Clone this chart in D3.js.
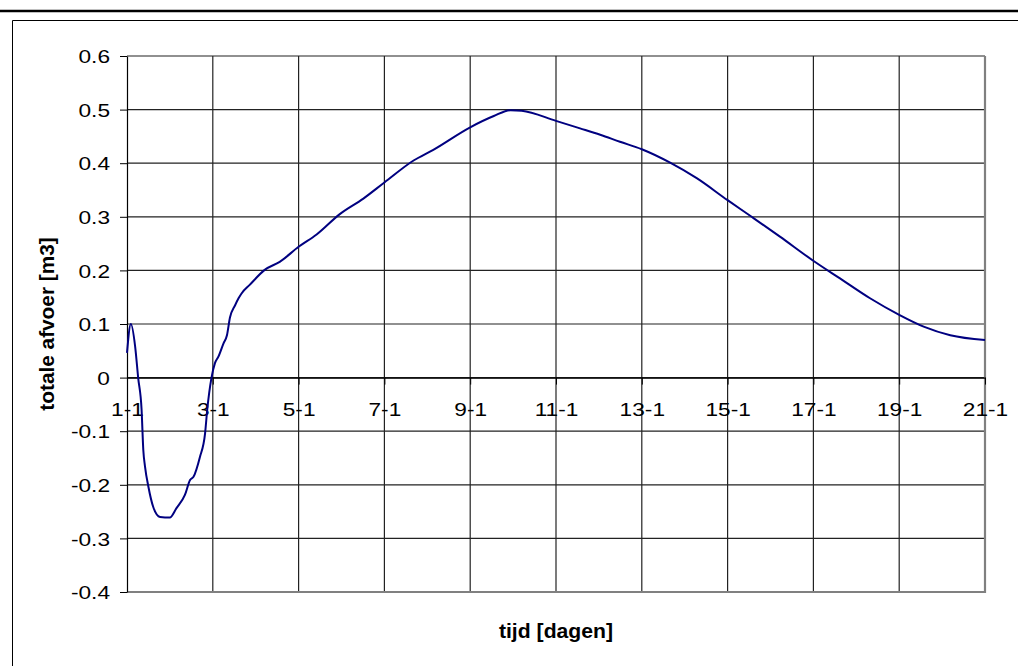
<!DOCTYPE html>
<meta charset="utf-8">
<head>
  <style>
    body { margin: 0; background: #fff; }
    .tick-label { font-family: Arial, "Liberation Sans", sans-serif; font-size: 18.6px; fill: #000; }
    .axis-title { font-family: Arial, "Liberation Sans", sans-serif; font-size: 20px; font-weight: bold; fill: #000; }
  </style>
  <title></title>
</head>
<body>

<script src="https://d3js.org/d3.v7.min.js"></script>

<div id="my_dataviz"></div>

<script>

var days = [0, 0.09, 0.19, 0.26, 0.34, 0.38, 0.42, 0.50, 0.61, 0.77, 1.0, 1.15, 1.35, 1.47, 1.55,
  1.70, 1.82, 1.87, 1.97, 2.05, 2.13, 2.25, 2.33, 2.40, 2.52, 2.60, 2.67, 2.86, 3.21, 3.56, 4.0,
  4.42, 4.96, 5.51, 6.0, 6.68, 7.14, 8.0, 8.55, 8.94, 9.2, 10.0, 10.56, 11.03, 11.49, 12.0,
  12.66, 13.28, 14.0, 14.56, 15.22, 15.98, 16.62, 17.32, 18.0, 18.57, 19.19, 20.0];
var afvoer = [0.046, 0.100, 0.058, 0.0, -0.06, -0.135, -0.166, -0.204, -0.241, -0.26, -0.261, -0.244, -0.219, -0.191, -0.185,
  -0.148, -0.104, -0.06, 0.0, 0.027, 0.039, 0.064, 0.079, 0.112, 0.135, 0.148, 0.157, 0.173, 0.201, 0.216, 0.244,
  0.267, 0.305, 0.334, 0.364, 0.405, 0.425, 0.467, 0.488, 0.499, 0.498, 0.479, 0.465, 0.453, 0.440, 0.426,
  0.401, 0.372, 0.331, 0.300, 0.263, 0.219, 0.185, 0.148, 0.117, 0.095, 0.079, 0.070];

var xTicks = [0, 2, 4, 6, 8, 10, 12, 14, 16, 18, 20];
var xTickLabels = ["1-1", "3-1", "5-1", "7-1", "9-1", "11-1", "13-1", "15-1", "17-1", "19-1", "21-1"];
var yTicks = [-0.4, -0.3, -0.2, -0.1, 0, 0.1, 0.2, 0.3, 0.4, 0.5, 0.6];

var W = 1018, H = 666;
var plotLeft = 127, plotRight = 985, plotTop = 56, plotBottom = 592;

var svg = d3.select("#my_dataviz")
  .append("svg")
    .attr("width", W)
    .attr("height", H);

// outer frame
svg.append("line")
  .attr("x1", 0).attr("x2", W).attr("y1", 11).attr("y2", 11)
  .attr("stroke", "#000").attr("stroke-width", 2.5);
svg.append("path")
  .attr("d", "M12.5," + H + "V20.5H" + W)
  .attr("fill", "none").attr("stroke", "#000").attr("stroke-width", 1);

var x = d3.scaleLinear().domain([0, 20]).range([plotLeft, plotRight]);
var y = d3.scaleLinear().domain([-0.4, 0.6]).range([plotBottom, plotTop]);

// gridlines
svg.append("g")
  .selectAll("line")
  .data(yTicks)
  .enter().append("line")
    .attr("x1", plotLeft).attr("x2", plotRight)
    .attr("y1", function(d) { return y(d); })
    .attr("y2", function(d) { return y(d); })
    .attr("stroke", "#222").attr("stroke-width", 1.2);

svg.append("g")
  .selectAll("line")
  .data(xTicks.slice(1))
  .enter().append("line")
    .attr("x1", function(d) { return x(d); })
    .attr("x2", function(d) { return x(d); })
    .attr("y1", plotTop).attr("y2", plotBottom)
    .attr("stroke", "#222").attr("stroke-width", 1.2);

// plot area border (right + bottom gray)
svg.append("path")
  .attr("d", "M" + plotRight + "," + plotTop + "V" + plotBottom + "H" + plotLeft)
  .attr("fill", "none").attr("stroke", "#808080").attr("stroke-width", 2.2);

// Y axis
var yAxis = svg.append("g")
  .attr("transform", "translate(" + plotLeft + ",0)")
  .call(d3.axisLeft(y).tickValues(yTicks).tickSize(7).tickSizeOuter(0));
yAxis.select(".domain").attr("stroke", "#000").attr("stroke-width", 1.2);
yAxis.selectAll(".tick line").attr("stroke", "#000");
yAxis.selectAll(".tick text").remove();
yAxis.selectAll(".tick")
  .append("text")
    .attr("class", "tick-label")
    .attr("text-anchor", "end")
    .attr("transform", "translate(-17,6.7) scale(1.22,1)")
    .text(function(d) { return String(+d.toFixed(1)); });

// X axis at zero
var xAxis = svg.append("g")
  .attr("transform", "translate(0," + y(0) + ")")
  .call(d3.axisBottom(x).tickValues(xTicks).tickSize(7).tickSizeOuter(0));
xAxis.select(".domain").attr("stroke", "#000").attr("stroke-width", 1.2);
xAxis.selectAll(".tick line").attr("stroke", "#000");
xAxis.selectAll(".tick text").remove();
xAxis.selectAll(".tick")
  .append("text")
    .attr("class", "tick-label")
    .attr("text-anchor", "middle")
    .attr("transform", "translate(0,38.8) scale(1.22,1)")
    .text(function(d, i) { return xTickLabels[i]; });

// line
var data = days.map(function(d, i) { return { t: d, v: afvoer[i] }; });
svg.append("path")
  .datum(data)
  .attr("fill", "none")
  .attr("stroke", "#000080")
  .attr("stroke-width", 2)
  .attr("d", d3.line()
    .curve(d3.curveMonotoneX)
    .x(function(d) { return x(d.t); })
    .y(function(d) { return y(d.v); }));

// titles
svg.append("text")
  .attr("class", "axis-title")
  .attr("text-anchor", "middle")
  .attr("transform", "translate(" + ((plotLeft + plotRight) / 2) + ",638) scale(1.06,1)")
  .text("tijd [dagen]");

svg.append("text")
  .attr("class", "axis-title")
  .attr("text-anchor", "middle")
  .attr("transform", "translate(54," + ((plotTop + plotBottom) / 2) + ") rotate(-90) scale(1.04,1)")
  .text("totale afvoer [m3]");

</script>

</body>
